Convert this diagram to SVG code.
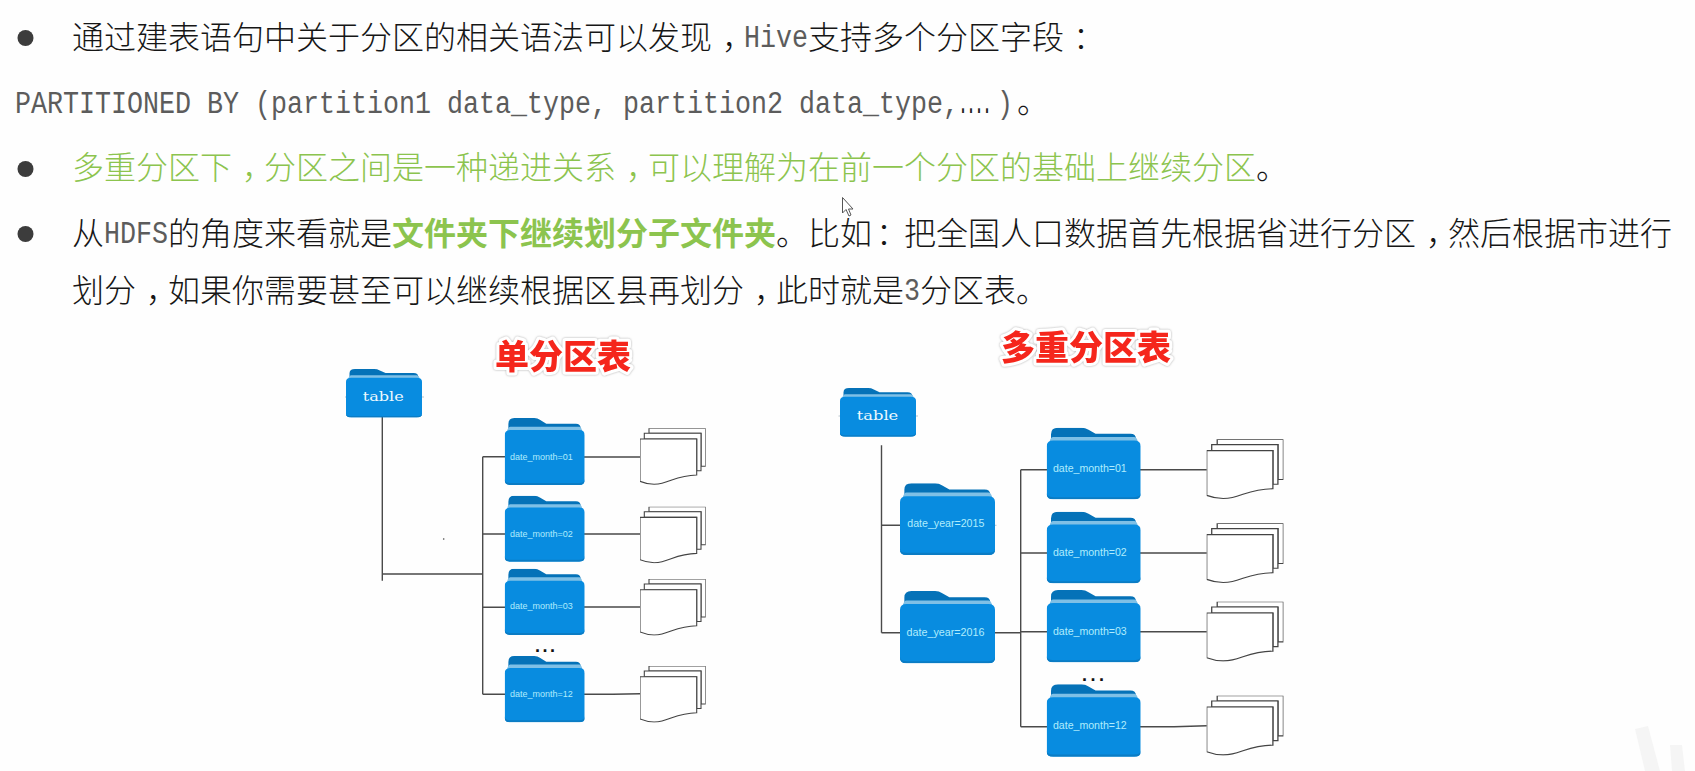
<svg xmlns="http://www.w3.org/2000/svg" width="1695" height="771" viewBox="0 0 1695 771">
<style>
.t{font-family:"Noto Sans CJK SC","Noto Sans",sans-serif;font-size:32px;fill:#161616;font-weight:300}
.g{fill:#8cc44e}
.gb{fill:#8cc44e;font-weight:700}
.m{font-family:"Liberation Mono",monospace;font-size:31px;fill:#5c5c5c}
.md{font-family:"Liberation Mono",monospace;font-size:31px;font-weight:700;fill:#222}
.title{font-family:"Noto Sans CJK SC",sans-serif;font-size:34px;font-weight:900;fill:#f5281c;stroke:#fff;stroke-width:6px;stroke-linejoin:round;paint-order:stroke;filter:url(#halo)}
.lb{font-family:"Liberation Sans",Arial,sans-serif;fill:#b0ecfd;font-size:9.3px}
.lb2{font-size:10.7px}
.tb{font-family:"DejaVu Serif",serif;fill:#eef9fe;font-size:12px}
.c{fill:none;stroke:#4a4a4a;stroke-width:1.4}
.s{fill:none;stroke:#b8c4cc;stroke-width:1}
.dots{font-family:"Liberation Sans",sans-serif;font-weight:700;font-size:18px;fill:#111;letter-spacing:2.5px}
</style>
<defs>
<filter id="halo" x="-10%" y="-20%" width="120%" height="140%"><feDropShadow dx="0" dy="0" stdDeviation="1" flood-color="#aaa"/></filter>
<symbol id="folder" viewBox="0 0 100 100" preserveAspectRatio="none">
<path d="M4.600 30V9Q4.600 0 12 0H37Q41 0 44.500 3L52 8.500H89Q95 8.500 95 16V30Z" fill="#0572b8"/>
<path d="M5 13H93Q96 13 97 20H3Q4 13 7 13Z" fill="#7fc0e6"/>
<path d="M0 26Q0 18 7 18H93Q100 18 100 26V93Q100 100 93 100H7Q0 100 0 93Z" fill="#088ce0"/>
<path d="M0 93Q0 100 7 100H93Q100 100 100 93V91Q100 97 93 97H7Q0 97 0 91Z" fill="#0b7cc4"/>
</symbol>
<symbol id="doc" viewBox="0 0 65.700 56.700" preserveAspectRatio="none">
<g fill="#fff" stroke="#444" stroke-width="1.100">
<path d="M9 0H65.700V38H61V5H9Z"/>
<path d="M4.300 5H61V42.500H56.700V10.700H4.300Z"/>
<path d="M0 10.700H56.700V46.700C40 47 33 52 22 55C14 57 6 55.500 0 53Z"/>
</g>
</symbol>
</defs>
<rect width="1695" height="771" fill="#fefefe"/>
<g id="watermark" fill="#f5f5f5">
<path d="M1635 729L1648 726L1660 771H1645Z"/><path d="M1670 745H1682L1685 771H1672Z"/>
</g>
<g id="copy">
<circle cx="25.500" cy="38" r="8" fill="#3c3c3c"/>
<circle cx="25.500" cy="169" r="8" fill="#3c3c3c"/>
<circle cx="25.500" cy="234" r="8" fill="#3c3c3c"/>
<text class="t" y="49"><tspan x="72">通过建表语句中关于分区的相关语法可以发现</tspan><tspan x="722">，</tspan><tspan x="808">支持多个分区字段</tspan><tspan x="1073">：</tspan></text>
<text class="m" x="744" y="47" textLength="64" lengthAdjust="spacingAndGlyphs">Hive</text>
<text class="m" x="15" y="113" textLength="944" lengthAdjust="spacingAndGlyphs">PARTITIONED BY (partition1 data_type, partition2 data_type,</text>
<text class="md" x="959" y="113" textLength="32" lengthAdjust="spacingAndGlyphs">....</text>
<text class="m" x="997" y="113" textLength="16" lengthAdjust="spacingAndGlyphs">)</text>
<text class="t" x="1017" y="113">。</text>
<text class="t g" y="179"><tspan x="72">多重分区下</tspan><tspan x="242">，</tspan><tspan x="264">分区之间是一种递进关系</tspan><tspan x="626">，</tspan><tspan x="648">可以理解为在前一个分区的基础上继续分区</tspan></text>
<text class="t" x="1256" y="179">。</text>
<text class="t" y="245"><tspan x="72">从</tspan><tspan x="168">的角度来看就是</tspan><tspan x="776">。</tspan><tspan x="808">比如</tspan><tspan x="876">：</tspan><tspan x="904">把全国人口数据首先根据省进行分区</tspan><tspan x="1426">，</tspan><tspan x="1448">然后根据市进行</tspan></text>
<text class="m" x="104" y="243" textLength="64" lengthAdjust="spacingAndGlyphs">HDFS</text>
<text class="t gb" x="392" y="245">文件夹下继续划分子文件夹</text>
<text class="t" y="302"><tspan x="72">划分</tspan><tspan x="146">，</tspan><tspan x="168">如果你需要甚至可以继续根据区县再划分</tspan><tspan x="754">，</tspan><tspan x="776">此时就是</tspan><tspan x="920">分区表</tspan><tspan x="1016">。</tspan></text>
<text class="m" x="904" y="300" textLength="16" lengthAdjust="spacingAndGlyphs">3</text>
<path d="M842.500 197.500V213L846 209.500L849 216L851 215L848.500 209H853Z" fill="#fff" stroke="#555" stroke-width="1"/>
<circle cx="443.700" cy="539" r="0.800" fill="#444"/>
</g>
<g id="connectors">
<path class="c" d="M382.300 417V580.700M382.300 574H482.700M482.700 456.700V694.300M482.700 456.700H505M482.700 534H505M482.700 607.300H505M482.700 694.300H505"/>
<path class="c" d="M584 457H640M584 534H640M584 607H640M584 694.300H613L640 693.700"/>
<path class="c" d="M881.500 445.300V632.700M881.500 525.300H900M881.500 632.700H900M994.700 632.700H1020.700M1020.700 469.700V726.700M1020.700 469.700H1047M1020.700 553H1047M1020.700 631.700H1047M1020.700 726.700H1047"/>
<path class="c" d="M1140 469.700H1206.700M1140 553H1206.700M1140 631.700H1206.700M1140 726.700H1174L1206.700 725.700"/>
<path class="s" d="M345 397H347M421 397H424M838.500 416H841M915 416H918M994 525.300H996.500"/>
</g>
<g id="title-single"><text class="title" x="495" y="369">单分区表</text></g>
<g id="title-multi"><text class="title" x="1001" y="360">多重分区表</text></g>
<g id="s-table"><use href="#folder" x="346" y="369" width="76" height="48.500"/><text class="tb" x="362.700" y="400.500" textLength="41" lengthAdjust="spacingAndGlyphs">table</text></g>
<g id="s-m01"><use href="#folder" x="504.700" y="418" width="80" height="67"/><text class="lb" x="510" y="459.700" textLength="62.700" lengthAdjust="spacingAndGlyphs">date_month=01</text></g>
<g id="s-m02"><use href="#folder" x="504.700" y="495.700" width="80" height="66"/><text class="lb" x="510" y="537.300" textLength="62.700" lengthAdjust="spacingAndGlyphs">date_month=02</text></g>
<g id="s-m03"><use href="#folder" x="504.700" y="568.700" width="80" height="66.300"/><text class="lb" x="510" y="609.300" textLength="62.700" lengthAdjust="spacingAndGlyphs">date_month=03</text></g>
<g id="s-dots"><text class="dots" x="535" y="652">...</text></g>
<g id="s-m12"><use href="#folder" x="504.700" y="656" width="80" height="66.300"/><text class="lb" x="510" y="697" textLength="62.700" lengthAdjust="spacingAndGlyphs">date_month=12</text></g>
<g id="s-d01"><use href="#doc" x="640" y="428.300" width="65.700" height="56.700"/></g>
<g id="s-d02"><use href="#doc" x="640" y="506.700" width="65.700" height="56.700"/></g>
<g id="s-d03"><use href="#doc" x="640" y="579" width="65.700" height="56.700"/></g>
<g id="s-d12"><use href="#doc" x="640" y="666" width="65.700" height="56.700"/></g>
<g id="m-table"><use href="#folder" x="840" y="388" width="76" height="48.700"/><text class="tb" x="856.700" y="419.500" textLength="41.600" lengthAdjust="spacingAndGlyphs">table</text></g>
<g id="m-y2015"><use href="#folder" x="900" y="483.300" width="95" height="71.700"/><text class="lb lb2" x="907.300" y="527" textLength="77" lengthAdjust="spacingAndGlyphs">date_year=2015</text></g>
<g id="m-y2016"><use href="#folder" x="900" y="591" width="95" height="72.300"/><text class="lb lb2" x="906.500" y="636" textLength="78" lengthAdjust="spacingAndGlyphs">date_year=2016</text></g>
<g id="m-m01"><use href="#folder" x="1046.700" y="427.700" width="94" height="71.600"/><text class="lb lb2" x="1053" y="472.300" textLength="73.700" lengthAdjust="spacingAndGlyphs">date_month=01</text></g>
<g id="m-m02"><use href="#folder" x="1046.700" y="511.700" width="94" height="71.600"/><text class="lb lb2" x="1053" y="556" textLength="73.700" lengthAdjust="spacingAndGlyphs">date_month=02</text></g>
<g id="m-m03"><use href="#folder" x="1046.700" y="590" width="94" height="72.300"/><text class="lb lb2" x="1053" y="635" textLength="73.700" lengthAdjust="spacingAndGlyphs">date_month=03</text></g>
<g id="m-dots"><text class="dots" x="1082" y="681" style="letter-spacing:3.500px">...</text></g>
<g id="m-m12"><use href="#folder" x="1046.700" y="684.300" width="94" height="72.400"/><text class="lb lb2" x="1053" y="729.300" textLength="73.700" lengthAdjust="spacingAndGlyphs">date_month=12</text></g>
<g id="m-d01"><use href="#doc" x="1206.700" y="439.300" width="76.700" height="60"/></g>
<g id="m-d02"><use href="#doc" x="1206.700" y="523.300" width="76.700" height="60"/></g>
<g id="m-d03"><use href="#doc" x="1206.700" y="601.700" width="76.700" height="60"/></g>
<g id="m-d12"><use href="#doc" x="1206.700" y="695.700" width="76.700" height="60"/></g>
</svg>
